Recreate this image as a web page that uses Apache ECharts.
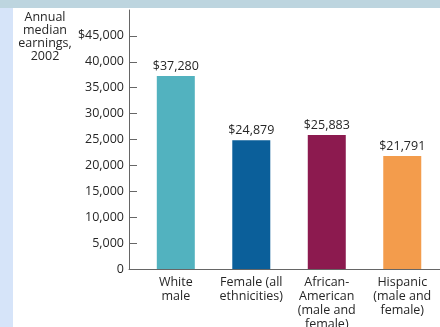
<!DOCTYPE html>
<html>
<head>
<meta charset="utf-8">
<script src="https://cdn.jsdelivr.net/npm/echarts@6/dist/echarts.min.js"></script>
<style>
  html, body { margin: 0; padding: 0; width: 440px; height: 327px; overflow: hidden; background: #d6e4f9; }
  #topband { position: absolute; left: 0; top: 0; width: 440px; height: 8px; background: #bdd5df; }
  #paper { position: absolute; left: 13px; top: 8px; width: 427px; height: 319px; background: #ffffff; }
  #chart { position: absolute; left: 0; top: 0; width: 440px; height: 327px; }
</style>
</head>
<body>
<div id="topband"></div>
<div id="paper"></div>
<div id="chart"></div>
<script>
const categories = ['White\nmale', 'Female (all\nethnicities)', 'African-\nAmerican\n(male and\nfemale)', 'Hispanic\n(male and\nfemale)'];
const earnings = [37280, 24879, 25883, 21791];
const barColors = ['#52b2bf', '#0b5f9a', '#8c1a4f', '#f39c4c'];
const yTicks = [0, 5000, 10000, 15000, 20000, 25000, 30000, 35000, 40000, 45000];
const yTickLabels = ['0', '5,000', '10,000', '15,000', '20,000', '25,000', '30,000', '35,000', '40,000', '$45,000'];
const yAxisTitle = 'Annual\nmedian\nearnings,\n2002';

const font = 'Open Sans';
const textColor = '#262626';
const axisColor = '#666666';

const chart = echarts.init(document.getElementById('chart'), null, { renderer: 'canvas' });
chart.setOption({
  animation: false,
  backgroundColor: 'transparent',
  title: {
    text: yAxisTitle,
    left: 40,
    top: 6,
    textAlign: 'center',
    textStyle: { fontFamily: font, fontSize: 12.5, fontWeight: 'normal', color: textColor, lineHeight: 13 }
  },
  grid: { left: 129, right: 0, top: 10, bottom: 58, containLabel: false, outerBoundsMode: 'none' },
  xAxis: {
    type: 'value',
    min: -0.62,
    max: 3.5,
    axisLine: { show: true, onZero: false, lineStyle: { color: axisColor, width: 1 } },
    axisTick: { show: false },
    splitLine: { show: false },
    axisLabel: {
      customValues: [0, 1, 2, 3],
      formatter: v => categories[Math.round(v)],
      fontFamily: font, fontSize: 12.5, color: textColor, lineHeight: 14, margin: 6
    }
  },
  yAxis: {
    type: 'value',
    min: 0,
    max: 50000,
    axisLine: { show: true, onZero: false, lineStyle: { color: axisColor, width: 1 } },
    axisTick: { show: true, inside: true, length: 8, customValues: yTicks, lineStyle: { color: axisColor } },
    splitLine: { show: false },
    axisLabel: {
      customValues: yTicks,
      formatter: v => yTickLabels[yTicks.indexOf(v)],
      fontFamily: font, fontSize: 12.5, color: textColor, margin: 5
    }
  },
  series: [{
    type: 'bar',
    barWidth: 38,
    data: earnings.map((v, i) => ({ value: [i, v], itemStyle: { color: barColors[i] } })),
    label: {
      show: true,
      position: 'top',
      distance: 3,
      fontFamily: font, fontSize: 12.5, color: textColor,
      formatter: p => '$' + p.value[1].toLocaleString('en-US')
    }
  }]
});
</script>
</body>
</html>
